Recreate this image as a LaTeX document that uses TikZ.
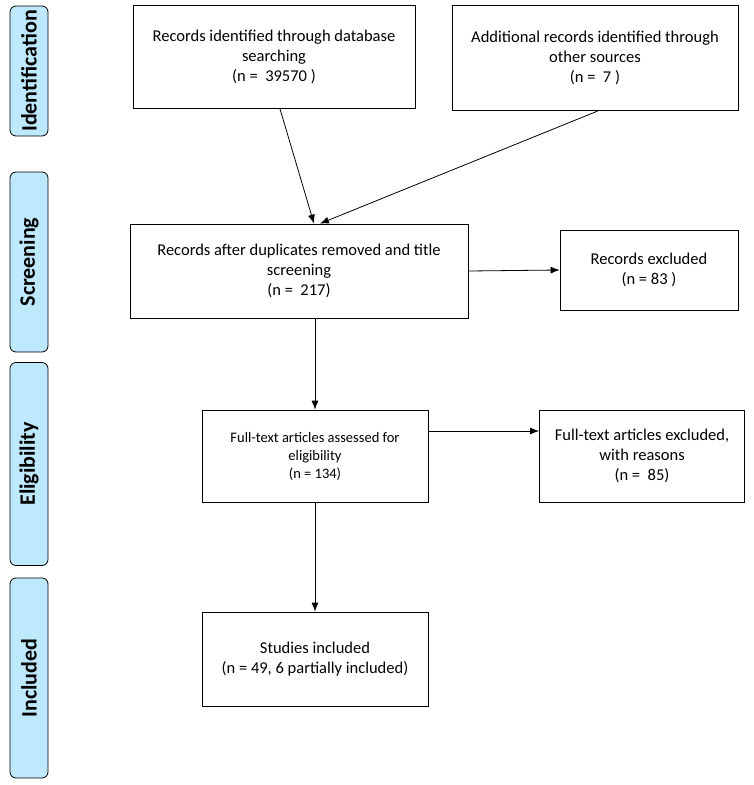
\documentclass[tikz,border=0pt]{standalone}
\usepackage{fontspec}
\setmainfont{Carlito}
\usetikzlibrary{positioning,arrows.meta}
\definecolor{phaseblue}{RGB}{190,232,252}
\tikzset{
  box/.style={draw,thick,align=center,font=\fontsize{16.5}{20}\selectfont,inner sep=0pt},
  phase/.style={draw,thick,fill=phaseblue,rounded corners=6pt,rotate=90,
    font=\bfseries\fontsize{22}{24}\selectfont,minimum height=38pt,inner sep=0pt},
  arr/.style={-{Latex[length=9pt,width=7pt]},thick}
}
\begin{document}
\begin{tikzpicture}[x=1pt,y=-1pt]
  \useasboundingbox (0,0) rectangle (753,785);
  % phases
  \node[phase,minimum width=130pt] (ident) at (29,71) {Identification};
  \node[phase,minimum width=180pt] (screen) at (29,262) {Screening};
  \node[phase,minimum width=203pt] (elig) at (29,464) {Eligibility};
  \node[phase,minimum width=200pt] (incl) at (29,678) {Included};
  % boxes
  \node[box,minimum width=282pt,minimum height=103pt] (db) at (274,57)
    {Records identified through database\\searching\\(n =\ \ 39570 )};
  \node[box,minimum width=286pt,minimum height=105pt] (other) at (595,58)
    {Additional records identified through\\other sources\\(n =\ \ 7 )};
  \node[box,minimum width=338pt,minimum height=94pt] (dup) at (299,271)
    {Records after duplicates removed and title\\screening\\(n =\ \ 217)};
  \node[box,minimum width=178pt,minimum height=80pt] (excl) at (649,270)
    {Records excluded\\(n = 83 )};
  \node[box,minimum width=226pt,minimum height=92pt,font=\fontsize{14.5}{18}\selectfont] (full) at (315,456)
    {Full-text articles assessed for\\eligibility\\(n = 134)};
  \node[box,minimum width=205pt,minimum height=92pt] (fullex) at (642,456)
    {Full-text articles excluded,\\with reasons\\(n =\ \ 85)};
  \node[box,minimum width=226pt,minimum height=94pt] (incl2) at (315,659)
    {Studies included\\(n = 49, 6 partially included)};
  % arrows
  \draw[arr] (db.south -| 280,0) -- (dup.north -| 314,0);
  \draw[arr] (other.south -| 598,0) -- (dup.north -| 320,0);
  \draw[arr] (dup.south -| full) -- (full.north);
  \draw[arr] (dup.east) -- (excl.west);
  \draw[arr] (full.east |- 0,431) -- (fullex.west |- 0,431);
  \draw[arr] (full.south) -- (incl2.north);
\end{tikzpicture}
\end{document}
